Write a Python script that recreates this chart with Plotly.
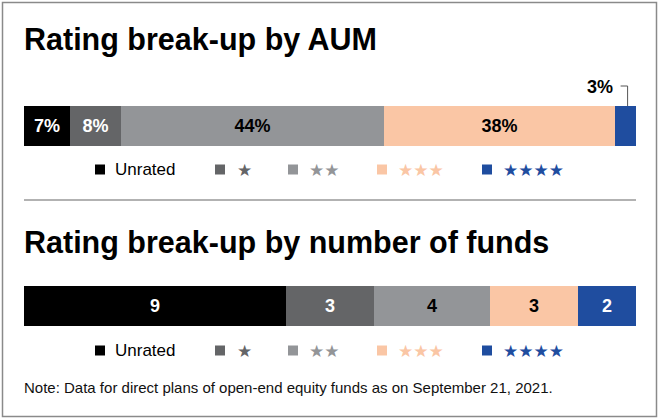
import plotly.graph_objects as go

# ---- data ----
categories = ["Unrated", "★", "★★", "★★★", "★★★★"]
aum_share = [7.5, 8.3, 43.1, 37.7, 3.4]          # % of AUM (bar widths as read)
aum_labels = ["7%", "8%", "44%", "38%", "3%"]
fund_counts = [9, 3, 4, 3, 2]
fund_labels = ["9", "3", "4", "3", "2"]
colors = ["#000000", "#646567", "#939598", "#FAC6A5", "#1F4D9F"]
label_colors = ["white", "white", "black", "black", "white"]
title_aum = "Rating break-up by AUM"
title_funds = "Rating break-up by number of funds"
note = "Note: Data for direct plans of open-end equity funds as on September 21, 2021."

W, H = 660, 419
FONT = "Liberation Sans, Arial, Helvetica, sans-serif"
STAR_FONT = "DejaVu Sans, sans-serif"


def px(x):
    return x / W


def py(y):
    return 1 - y / H


BAR_L, BAR_R = 24, 636
fig = go.Figure()

small = [v < 5 for v in aum_share]
for i, cat in enumerate(categories):
    fig.add_trace(go.Bar(
        x=[aum_share[i]], y=["AUM"], orientation="h", name=cat,
        marker=dict(color=colors[i], line=dict(width=0)),
        text=["" if small[i] else aum_labels[i]], textposition="inside",
        insidetextanchor="middle", textangle=0, constraintext="none",
        textfont=dict(family=FONT, size=18, color=label_colors[i], weight="bold"),
        xaxis="x", yaxis="y", showlegend=False, hoverinfo="skip",
    ))
    fig.add_trace(go.Bar(
        x=[fund_counts[i]], y=["Funds"], orientation="h", name=cat,
        marker=dict(color=colors[i], line=dict(width=0)),
        text=[fund_labels[i]], textposition="inside",
        insidetextanchor="middle", textangle=0, constraintext="none",
        textfont=dict(family=FONT, size=18, color=label_colors[i], weight="bold"),
        xaxis="x2", yaxis="y2", showlegend=False, hoverinfo="skip",
    ))

aum_total = sum(aum_share)
fund_total = sum(fund_counts)
unit = aum_total / (BAR_R - BAR_L)   # data units per pixel on the AUM axis

shapes = []
annotations = []

# outside label with leader line for small AUM segments
cum = 0
for i, v in enumerate(aum_share):
    if small[i]:
        cx = cum + v / 2 + 2 * unit
        shapes.append(dict(type="path", xref="x", yref="paper",
                           path=f"M {cx - 7 * unit},{py(86)} L {cx},{py(86)} L {cx},{py(106)}",
                           line=dict(color="#555555", width=1)))
        annotations.append(dict(text=aum_labels[i], xref="x", yref="paper",
                                x=cx - 13 * unit, y=py(87), xanchor="right", yanchor="middle",
                                showarrow=False,
                                font=dict(family=FONT, size=18, color="black", weight="bold")))
    cum += v

# titles
for t, yc in [(title_aum, 40), (title_funds, 242)]:
    annotations.append(dict(text=t, xref="paper", yref="paper", x=px(22), y=py(yc),
                            xanchor="left", yanchor="middle", showarrow=False,
                            font=dict(family=FONT, size=30.5, color="black", weight="bold")))

# legends (custom rows)
sq_left = [95, 215, 288, 377, 482]
txt_left = [113, 235, 307, 396, 501]
SQ = 10
for yc in [169.5, 350.5]:
    for i, cat in enumerate(categories):
        shapes.append(dict(type="rect", xref="paper", yref="paper",
                           x0=px(sq_left[i]), x1=px(sq_left[i] + SQ),
                           y0=py(yc + SQ / 2), y1=py(yc - SQ / 2),
                           fillcolor=colors[i], line=dict(width=0)))
        if cat.startswith("★"):
            annotations.append(dict(text=cat, xref="paper", yref="paper",
                                    x=px(txt_left[i]), y=py(yc), xanchor="left", yanchor="middle",
                                    showarrow=False,
                                    font=dict(family=STAR_FONT, size=17, color=colors[i])))
        else:
            annotations.append(dict(text=cat, xref="paper", yref="paper",
                                    x=px(txt_left[i]), y=py(yc), xanchor="left", yanchor="middle",
                                    showarrow=False,
                                    font=dict(family=FONT, size=17, color="black")))

# note
annotations.append(dict(text=note, xref="paper", yref="paper", x=px(22), y=py(387),
                        xanchor="left", yanchor="middle", showarrow=False,
                        font=dict(family=FONT, size=15, color="#111111")))

# separator and frame
shapes.append(dict(type="line", xref="paper", yref="paper", x0=px(24), x1=px(636),
                   y0=py(200), y1=py(200), line=dict(color="#999999", width=1.5)))
shapes.append(dict(type="rect", xref="paper", yref="paper", x0=px(2.5), x1=px(656.5),
                   y0=py(416.5), y1=py(2.5), line=dict(color="#8a8a8a", width=1.5)))

fig.update_layout(
    width=W, height=H, margin=dict(l=0, r=0, t=0, b=0),
    paper_bgcolor="white", plot_bgcolor="white",
    barmode="stack", bargap=0,
    xaxis=dict(domain=[px(BAR_L), px(BAR_R)], range=[0, aum_total], visible=False,
               fixedrange=True, anchor="y"),
    yaxis=dict(domain=[py(146), py(106)], range=[-0.5, 0.5], visible=False,
               fixedrange=True, anchor="x"),
    xaxis2=dict(domain=[px(BAR_L), px(BAR_R)], range=[0, fund_total], visible=False,
                fixedrange=True, anchor="y2"),
    yaxis2=dict(domain=[py(326), py(286)], range=[-0.5, 0.5], visible=False,
                fixedrange=True, anchor="x2"),
    shapes=shapes, annotations=annotations, showlegend=False,
)

fig.write_html("out.html", config={"displayModeBar": False},
               post_script="document.body.style.margin='0';document.body.style.overflow='hidden';")
